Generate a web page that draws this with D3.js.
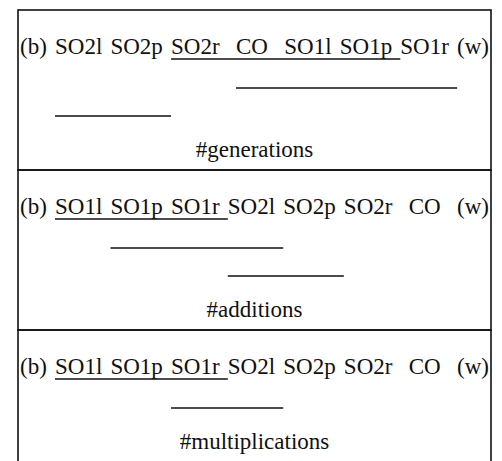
<!DOCTYPE html>
<html>
<head>
  <title>Rank groups</title>
  <style>
    body {
      background-color: white;
      margin: 0;
      padding: 0;
    }
    text {
      font-family: "Liberation Serif", serif;
      font-size: 23px;
      fill: #111;
    }
  </style>
</head>
<body>
  <div id="chart-container"></div>

  <script src="https://d3js.org/d3.v7.min.js"></script>
  <script>
    // Panel titles (what was counted)
    const panelTitles = ['#generations', '#additions', '#multiplications'];

    // Methods ordered from best (b) to worst (w), one list per panel
    const orderGenerations = ['(b)', 'SO2l', 'SO2p', 'SO2r', 'CO', 'SO1l', 'SO1p', 'SO1r', '(w)'];
    const orderAdditions = ['(b)', 'SO1l', 'SO1p', 'SO1r', 'SO2l', 'SO2p', 'SO2r', 'CO', '(w)'];
    const orderMultiplications = ['(b)', 'SO1l', 'SO1p', 'SO1r', 'SO2l', 'SO2p', 'SO2r', 'CO', '(w)'];

    // Groups with no significant difference: [first method, last method]
    // the underlined group sits right under the names, the others in rows below
    const underlineGroups = [
      ['SO2r', 'SO1p'],
      ['SO1l', 'SO1r'],
      ['SO1l', 'SO1r']
    ];
    const lowerGroups = [
      [['CO', 'SO1r'], ['SO2l', 'SO2p']],
      [['SO1p', 'SO2l'], ['SO2l', 'SO2p']],
      [['SO1r', 'SO2l']]
    ];

    const orders = [orderGenerations, orderAdditions, orderMultiplications];

    const width = 502, height = 461;
    const frameLeft = 18, frameRight = 491, frameTop = 10;
    const rowStep = 28;

    const svg = d3.select('#chart-container').append('svg')
      .attr('width', width)
      .attr('height', height);

    let panelTop = frameTop;

    orders.forEach((order, p) => {
      const rows = lowerGroups[p];
      const panelHeight = 104 + rows.length * rowStep;
      const g = svg.append('g').attr('transform', `translate(0,${panelTop})`);

      // frame of this panel
      g.append('rect')
        .attr('x', frameLeft)
        .attr('y', 0)
        .attr('width', frameRight - frameLeft)
        .attr('height', panelHeight)
        .attr('fill', 'none')
        .attr('stroke', '#111')
        .attr('stroke-width', 1.6);

      // method names, justified across the row
      const names = g.selectAll('text.method')
        .data(order)
        .join('text')
        .attr('class', 'method')
        .attr('y', 44)
        .text(d => d);

      const widths = names.nodes().map(n => n.getComputedTextLength());
      // a wider gap on both sides of CO, as in the original typesetting
      const gapWeights = order.slice(1).map((d, i) => (d === 'CO' || order[i] === 'CO') ? 2 : 1);
      const left = frameLeft + 2, right = frameRight - 2;
      const unit = (right - left - d3.sum(widths)) / d3.sum(gapWeights);

      const starts = [], ends = [];
      let x = left;
      order.forEach((d, i) => {
        starts.push(x);
        x += widths[i];
        ends.push(x + unit); // group lines run on through the following space
        if (i < gapWeights.length) x += gapWeights[i] * unit;
      });
      const xStart = d3.scaleOrdinal(order, starts);
      const xEnd = d3.scaleOrdinal(order, ends);

      names.attr('x', d => xStart(d));

      // underline directly under the names
      g.append('line')
        .attr('x1', xStart(underlineGroups[p][0]))
        .attr('x2', xEnd(underlineGroups[p][1]))
        .attr('y1', 49)
        .attr('y2', 49)
        .attr('stroke', '#111')
        .attr('stroke-width', 1.5);

      // other groups, one per row
      g.selectAll('line.group')
        .data(rows)
        .join('line')
        .attr('class', 'group')
        .attr('x1', d => xStart(d[0]))
        .attr('x2', d => xEnd(d[1]))
        .attr('y1', (d, i) => 78 + i * rowStep)
        .attr('y2', (d, i) => 78 + i * rowStep)
        .attr('stroke', '#111')
        .attr('stroke-width', 1.5);

      // panel title
      g.append('text')
        .attr('x', (frameLeft + frameRight) / 2)
        .attr('y', 91 + rows.length * rowStep)
        .attr('text-anchor', 'middle')
        .text(panelTitles[p]);

      panelTop += panelHeight;
    });
  </script>
</body>
</html>
